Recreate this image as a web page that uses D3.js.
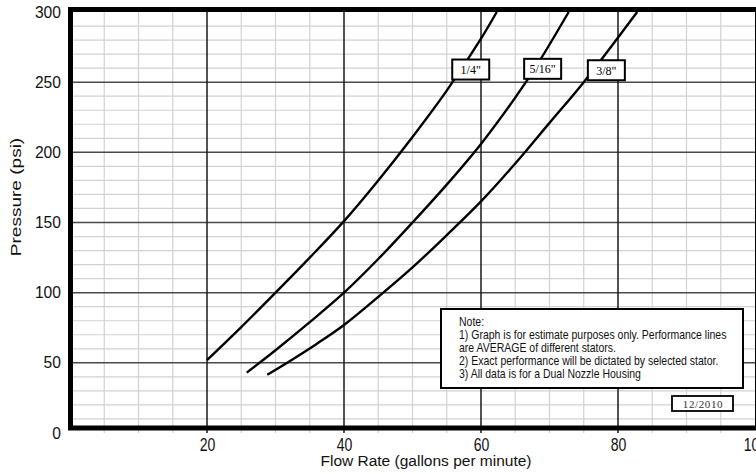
<!DOCTYPE html>
<html>
<head>
<meta charset="utf-8">
<script src="https://cdn.jsdelivr.net/npm/d3@7"></script>
<style>
  body { margin: 0; background: #fff; }
  svg { display: block; }
  .tick text { font-family: "Liberation Sans", Arial, sans-serif; fill: #111; }
</style>
</head>
<body>
<script>
// Flow rate (gpm) vs pressure (psi) for each stator size
const quarterX  = [20, 25, 30, 35, 40, 45, 50, 55, 60, 62.3];
const quarterY  = [52, 75.5, 100, 125, 151, 180, 211, 244, 281, 300];
const fiveX     = [25.8, 30, 35, 40, 45, 50, 55, 60, 65, 68.4, 72.8];
const fiveY     = [43, 59, 79, 100, 124, 150, 177, 206, 239, 264, 300];
const threeX    = [28.8, 32, 36, 40, 45, 50, 55, 60, 65, 70, 75, 82.8];
const threeY    = [41.5, 51, 63.5, 77, 97, 118, 141, 165, 192, 221, 250, 300];

const seriesNames = ['1/4"', '5/16"', '3/8"'];
const labelX = [58.5, 69.0, 78.3];
const labelY = [259, 259.5, 258.5];

const xTicks = [20, 40, 60, 80, 100];
const yTicks = [0, 50, 100, 150, 200, 250, 300];

const noteLines = [
  "Note:",
  "1) Graph is for estimate purposes only. Performance lines",
  "are AVERAGE of different stators.",
  "2) Exact performance will be dictated by selected stator.",
  "3) All data is for a Dual Nozzle Housing"
];
const dateStamp = "12/2010";

const W = 756, H = 474;
const x = d3.scaleLinear().domain([0, 100]).range([70, 755]);
const y = d3.scaleLinear().domain([0, 300]).range([433, 12]);

const svg = d3.select("body").append("svg")
  .attr("width", W).attr("height", H);

// minor grid
svg.append("g")
  .selectAll("line")
  .data(d3.range(5, 100, 5).filter(d => d % 20 !== 0))
  .join("line")
    .attr("x1", d => x(d)).attr("x2", d => x(d))
    .attr("y1", y(300)).attr("y2", y(0))
    .attr("stroke", "#d2d2d2").attr("stroke-width", 1.2);

svg.append("g")
  .selectAll("line")
  .data(d3.range(10, 300, 10).filter(d => d % 50 !== 0))
  .join("line")
    .attr("x1", x(0)).attr("x2", x(100))
    .attr("y1", d => y(d)).attr("y2", d => y(d))
    .attr("stroke", "#d2d2d2").attr("stroke-width", 1.2);

// major grid
svg.append("g")
  .selectAll("line")
  .data([50, 100, 150, 200, 250])
  .join("line")
    .attr("x1", x(0)).attr("x2", x(100))
    .attr("y1", d => y(d)).attr("y2", d => y(d))
    .attr("stroke", "#4a4a4a").attr("stroke-width", 1.5);

svg.append("g")
  .selectAll("line")
  .data([20, 40, 60, 80])
  .join("line")
    .attr("x1", d => x(d)).attr("x2", d => x(d))
    .attr("y1", y(300)).attr("y2", y(0))
    .attr("stroke", "#1a1a1a").attr("stroke-width", 1.5);

// curves
const series = [
  quarterX.map((v, i) => [v, quarterY[i]]),
  fiveX.map((v, i) => [v, fiveY[i]]),
  threeX.map((v, i) => [v, threeY[i]])
];

const line = d3.line()
  .x(d => x(d[0]))
  .y(d => y(d[1]))
  .curve(d3.curveCatmullRom.alpha(0.5));

svg.append("g")
  .selectAll("path")
  .data(series)
  .join("path")
    .attr("d", line)
    .attr("fill", "none")
    .attr("stroke", "#000")
    .attr("stroke-width", 2.4);

// series labels
const lab = svg.append("g")
  .selectAll("g")
  .data(seriesNames)
  .join("g")
    .attr("transform", (d, i) => `translate(${x(labelX[i])},${y(labelY[i])})`);

lab.append("rect")
  .attr("x", -18.5).attr("y", -10)
  .attr("width", 37).attr("height", 20)
  .attr("fill", "#fff").attr("stroke", "#000").attr("stroke-width", 2);

lab.append("text")
  .attr("text-anchor", "middle")
  .attr("y", 4.5)
  .attr("font-family", "'Liberation Serif', 'Times New Roman', serif")
  .attr("font-size", 12)
  .text(d => d);

// frame
svg.append("rect")
  .attr("x", x(0) + 0.5).attr("y", y(300) - 2.5)
  .attr("width", x(100) - x(0) + 2).attr("height", y(0) - y(300) - 2.5)
  .attr("fill", "none").attr("stroke", "#000").attr("stroke-width", 5);

// axes
const yAxis = svg.append("g")
  .attr("transform", `translate(${x(0)},0)`)
  .call(d3.axisLeft(y).tickValues(yTicks).tickSize(0).tickPadding(0));
yAxis.select(".domain").remove();
yAxis.selectAll("text")
  .attr("x", null).attr("dy", "0.3em")
  .attr("font-size", 17)
  .attr("transform", "translate(-9,0) scale(0.92,1)");

const xAxis = svg.append("g")
  .attr("transform", `translate(0,${y(0)})`)
  .call(d3.axisBottom(x).tickValues(xTicks).tickSize(0).tickPadding(5));
xAxis.select(".domain").remove();
xAxis.selectAll("text")
  .attr("font-size", 18.5)
  .attr("transform", "scale(0.76,1)");

// axis titles
svg.append("text")
  .attr("x", 426).attr("y", 466)
  .attr("text-anchor", "middle")
  .attr("font-family", "'Liberation Sans', Arial, sans-serif")
  .attr("font-size", 15.5)
  .attr("fill", "#111")
  .text("Flow Rate (gallons per minute)");

svg.append("text")
  .attr("transform", "translate(21,197) rotate(-90) scale(1.27,1)")
  .attr("text-anchor", "middle")
  .attr("font-family", "'Liberation Sans', Arial, sans-serif")
  .attr("font-size", 15)
  .attr("fill", "#111")
  .text("Pressure (psi)");

// note box
const note = svg.append("g");
note.append("rect")
  .attr("x", 441).attr("y", 309)
  .attr("width", 302).attr("height", 79)
  .attr("fill", "#fff").attr("stroke", "#000").attr("stroke-width", 2);

note.append("g")
  .attr("transform", "translate(459,0) scale(0.84,1)")
  .selectAll("text")
  .data(noteLines)
  .join("text")
    .attr("x", 0)
    .attr("y", (d, i) => 326.5 + i * 13)
    .attr("font-family", "'Liberation Sans', Arial, sans-serif")
    .attr("font-size", 12.5)
    .attr("fill", "#111")
    .text(d => d);

const stamp = svg.append("g");
stamp.append("rect")
  .attr("x", 672).attr("y", 396)
  .attr("width", 61).attr("height", 15)
  .attr("fill", "#fff").attr("stroke", "#000").attr("stroke-width", 1.8);
stamp.append("text")
  .attr("x", 703).attr("y", 407.5)
  .attr("text-anchor", "middle")
  .attr("font-family", "'Liberation Serif', 'Times New Roman', serif")
  .attr("font-size", 11)
  .attr("letter-spacing", 0.6)
  .attr("fill", "#333")
  .text(dateStamp);
</script>
</body>
</html>
